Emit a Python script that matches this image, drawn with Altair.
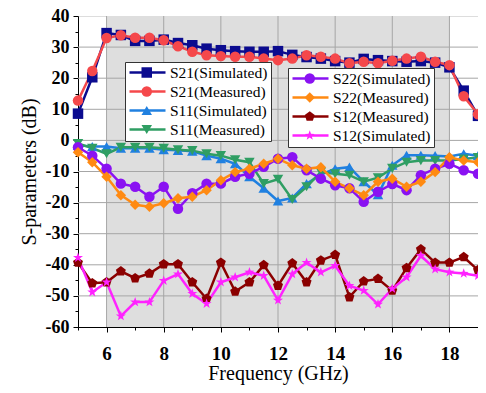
import altair as alt
import pandas as pd

freq = [5.0, 5.5, 6.0, 6.5, 7.0, 7.5, 8.0, 8.5, 9.0, 9.5, 10.0, 10.5, 11.0, 11.5, 12.0,
        12.5, 13.0, 13.5, 14.0, 14.5, 15.0, 15.5, 16.0, 16.5, 17.0, 17.5, 18.0, 18.5, 19.0]

s21_sim = [8.6, 20.3, 34.5, 33.9, 32.0, 32.0, 32.4, 31.3, 30.6, 29.5, 29.0, 28.7, 28.5, 28.5, 28.7,
           27.5, 26.8, 26.3, 25.5, 25.0, 26.2, 25.8, 25.5, 25.3, 25.5, 25.0, 23.5, 16.0, 7.9]
s21_meas = [12.8, 22.3, 32.9, 33.8, 33.0, 33.0, 32.2, 30.3, 28.5, 27.4, 27.1, 26.9, 26.9, 26.3, 25.8,
            26.3, 27.4, 26.9, 26.3, 24.8, 25.3, 24.8, 25.6, 26.3, 26.9, 25.3, 24.2, 14.2, 8.4]
s11_sim = [-1.6, -2.0, -2.0, -2.5, -2.5, -2.5, -3.0, -3.2, -3.5, -4.9, -5.9, -7.5, -11.7, -15.4, -19.5,
           -18.5, -13.9, -11.0, -9.1, -8.6, -13.3, -17.5, -8.0, -4.8, -4.8, -4.9, -5.2, -4.3, -4.9]
s11_meas = [-1.0, -2.5, -4.3, -2.2, -2.2, -2.2, -2.5, -3.0, -3.3, -4.3, -4.9, -6.2, -7.0, -13.9, -12.5,
            -19.0, -14.9, -10.2, -10.7, -11.2, -13.3, -12.0, -9.0, -7.0, -6.5, -6.5, -6.5, -6.0, -5.5]
s22_sim = [-2.2, -4.9, -9.1, -13.9, -14.9, -18.1, -14.9, -22.0, -17.0, -13.9, -13.9, -11.7, -10.7, -8.5, -5.9,
           -5.4, -9.6, -12.3, -14.4, -15.4, -19.7, -16.5, -14.0, -16.0, -11.2, -9.1, -7.5, -9.6, -10.7]
s22_meas = [-3.8, -7.0, -11.7, -17.6, -20.7, -21.3, -20.2, -18.6, -18.1, -16.0, -12.8, -10.2, -9.1, -7.5, -5.9,
            -8.0, -9.1, -8.6, -13.3, -15.4, -17.6, -13.3, -12.3, -14.9, -13.3, -10.2, -5.4, -6.5, -7.0]
s12_meas = [-39.3, -45.9, -45.6, -42.1, -44.3, -42.8, -39.8, -39.8, -45.6, -50.9, -39.3, -48.6, -45.6, -40.1, -46.7,
            -39.5, -45.6, -38.6, -36.8, -50.4, -45.3, -44.5, -48.3, -41.0, -35.0, -39.3, -39.3, -37.5, -41.7]
s12_sim = [-37.7, -48.8, -45.6, -56.5, -52.0, -52.0, -45.1, -43.0, -49.3, -52.5, -45.6, -44.0, -42.4, -43.5, -51.4,
           -43.0, -39.3, -42.4, -40.3, -46.7, -48.3, -52.7, -47.7, -44.0, -37.1, -41.4, -42.4, -42.8, -43.5]

series_a = ["S21(Simulated)", "S21(Measured)", "S11(Simulated)", "S11(Measured)"]
series_b = ["S22(Simulated)", "S22(Measured)", "S12(Measured)", "S12(Simulated)"]
values_a = [s21_sim, s21_meas, s11_sim, s11_meas]
values_b = [s22_sim, s22_meas, s12_meas, s12_sim]

colors_a = ["#0b0b8f", "#f5484b", "#2080e0", "#2f9e63"]
colors_b = ["#8a12f2", "#ff8a12", "#8b0000", "#ff22ff"]

PENTAGON = "M0,-1L0.951,-0.309L0.588,0.809L-0.588,0.809L-0.951,-0.309Z"
STAR = ("M0,-1L0.235,-0.324L0.951,-0.309L0.38,0.124L0.588,0.809L0,0.4"
        "L-0.588,0.809L-0.38,0.124L-0.951,-0.309L-0.235,-0.324Z")
shapes_a = ["square", "circle", "triangle-up", "triangle-down"]
shapes_b = ["circle", "diamond", PENTAGON, STAR]

shade_start = [6]
shade_end = [18]
vgrid = [6, 8, 10, 12, 14, 16, 18]
hgrid = [-50, -40, -30, -20, -10, 0, 10, 20, 30]

W, H = 400, 311
FONT = "Liberation Serif"


def long_df(names, vals):
    rows = []
    for k, (n, v) in enumerate(zip(names, vals)):
        for f, y in zip(freq, v):
            rows.append({"freq": f, "value": y, "series": n, "order": k})
    return pd.DataFrame(rows)


df_a = long_df(series_a, values_a)
df_b = long_df(series_b, values_b)

x_axis = alt.Axis(
    values=list(range(5, 20)),
    labelExpr="datum.value % 2 === 0 && datum.value >= 6 && datum.value <= 18 ? toString(datum.value) : ''",
    title="Frequency (GHz)", grid=False,
    labelFont=FONT, labelFontSize=19, labelFontWeight="bold", labelColor="black",
    titleFont=FONT, titleFontSize=20, titleFontWeight="normal", titleColor="black",
    tickColor="black", domainColor="black",
    tickSize={"condition": {"test": "datum.value % 2 === 0", "value": 5}, "value": 3},
    labelPadding=12, titlePadding=0, labelFlush=False, labelOverlap=False,
)
y_axis = alt.Axis(
    values=list(range(-60, 41, 5)),
    labelExpr="datum.value % 10 === 0 ? toString(datum.value) : ''",
    title="S-parameters (dB)", grid=False,
    labelFont=FONT, labelFontSize=18, labelFontWeight="bold", labelColor="black",
    titleFont=FONT, titleFontSize=20, titleFontWeight="normal", titleColor="black",
    tickColor="black", domainColor="black",
    tickSize={"condition": {"test": "datum.value % 10 === 0", "value": 5}, "value": 3},
    labelPadding=4, titlePadding=6, labelFlush=False, labelOverlap=False,
)
x_scale = alt.Scale(domain=[5, 19], nice=False, zero=False)
y_scale = alt.Scale(domain=[-60, 40], nice=False, zero=False)

shade = alt.Chart(pd.DataFrame({"start": shade_start, "end": shade_end})).mark_rect(
    color="#dedede").encode(
    x=alt.X("start:Q", scale=x_scale, axis=x_axis),
    x2="end:Q",
    y=alt.value(0), y2=alt.value(H),
)
vg = alt.Chart(pd.DataFrame({"g": vgrid})).mark_rule(color="#a6a6a6", strokeWidth=1).encode(
    x=alt.X("g:Q", scale=x_scale, axis=x_axis), y=alt.value(0), y2=alt.value(H))
hg = alt.Chart(pd.DataFrame({"g": hgrid})).mark_rule(color="#a6a6a6", strokeWidth=1).encode(
    y=alt.Y("g:Q", scale=y_scale, axis=y_axis), x=alt.value(0), x2=alt.value(W))


def group(df, names, colors, shapes, lx, ly):
    line_leg = alt.Legend(
        orient="none", legendX=lx, legendY=ly, title=None,
        symbolType="stroke", symbolSize=1296, symbolStrokeWidth=2.5,
        labelFont=FONT, labelFontSize=15.5, labelColor="black", labelOffset=3,
        rowPadding=3, padding=3, clipHeight=15, fillColor="white", strokeColor="#333333",
    )
    mark_leg = alt.Legend(
        orient="none", legendX=lx + 11, legendY=ly, title=None,
        symbolSize=110, symbolStrokeWidth=0, symbolOpacity=1,
        labelFont=FONT, labelFontSize=15.5, labelOpacity=0, labelOffset=16,
        rowPadding=3, padding=3, clipHeight=15,
    )
    lines = alt.Chart(df).mark_line(strokeWidth=2.5).encode(
        x=alt.X("freq:Q", scale=x_scale, axis=x_axis),
        y=alt.Y("value:Q", scale=y_scale, axis=y_axis),
        stroke=alt.Stroke("series:N", scale=alt.Scale(domain=names, range=colors), legend=line_leg),
        order="freq:Q",
    )
    pts = alt.Chart(df).mark_point(filled=True, size=110, opacity=1, strokeWidth=0).encode(
        x=alt.X("freq:Q", scale=x_scale, axis=x_axis),
        y=alt.Y("value:Q", scale=y_scale, axis=y_axis),
        fill=alt.Fill("series:N", scale=alt.Scale(domain=names, range=colors), legend=mark_leg),
        shape=alt.Shape("series:N", scale=alt.Scale(domain=names, range=shapes), legend=mark_leg),
    )
    return lines, pts


la, pa = group(df_a, series_a, colors_a, shapes_a, 47, 46)
lb, pb = group(df_b, series_b, colors_b, shapes_b, 210, 52)

chart = alt.layer(shade, vg, hg, la, pa, lb, pb).resolve_scale(
    stroke="independent", fill="independent", shape="independent"
).properties(
    width=W, height=H,
    autosize=alt.AutoSizeParams(type="none"),
    padding={"left": 70, "top": 8, "right": 0, "bottom": 58},
).configure_view(stroke="black", strokeWidth=1).configure(background="white")

chart.save("out.html", embed_options={"renderer": "svg", "actions": False})
